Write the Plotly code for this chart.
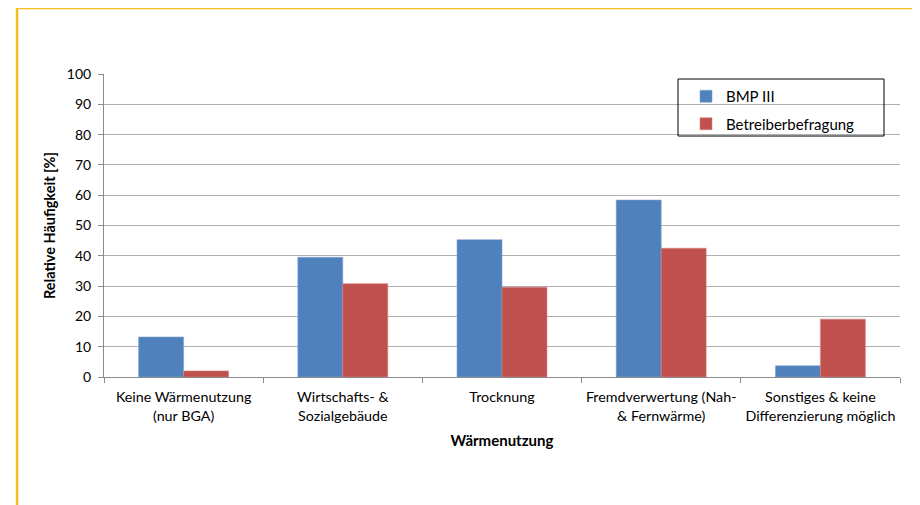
import plotly.graph_objects as go

categories = [
    "Keine Wärmenutzung<br>(nur BGA)",
    "Wirtschafts- &<br>Sozialgebäude",
    "Trocknung",
    "Fremdverwertung (Nah-<br>& Fernwärme)",
    "Sonstiges & keine<br>Differenzierung möglich",
]
bmp_iii = [13.2, 39.5, 45.3, 58.4, 3.7]
betreiber = [2.0, 30.8, 29.6, 42.5, 19.1]
y_ticks = [0, 10, 20, 30, 40, 50, 60, 70, 80, 90, 100]

FONT = "Lato, 'Open Sans', sans-serif"

# page body has an 8px margin: plot area target is x 104..900, y 74..377
L, T, PW, PH = 96, 66, 796, 303

fig = go.Figure()
fig.add_trace(go.Bar(x=categories, y=bmp_iii, name="BMP III",
                     marker=dict(color="#4F81BD", line=dict(color="#7EA1D0", width=0.6)),
                     legendgroup="a"))
fig.add_trace(go.Bar(x=categories, y=betreiber, name="Betreiberbefragung",
                     marker=dict(color="#C0504D", line=dict(color="#D58482", width=0.6)),
                     legendgroup="b"))

fig.update_layout(
    width=912, height=497,
    margin=dict(l=L, r=20, t=T, b=128, autoexpand=False),
    paper_bgcolor="white", plot_bgcolor="white",
    font=dict(family=FONT, size=14, color="#000000"),
    barmode="group", bargap=0.435, bargroupgap=0,
    showlegend=True,
    legend=dict(x=(686 - 104) / PW, y=(377 - 80) / PH, xanchor="left", yanchor="top",
                bgcolor="rgba(0,0,0,0)", borderwidth=0,
                font=dict(family=FONT, size=15, color="#000000"),
                tracegroupgap=5, traceorder="grouped", itemwidth=30),
    xaxis=dict(
        showline=True, linecolor="#8c8c8c", linewidth=1,
        ticks="outside", tickson="boundaries", ticklen=5, tickcolor="#8c8c8c",
        showgrid=False, ticklabelstandoff=7, tickangle=0,
        title=dict(text="<b>Wärmenutzung</b>", font=dict(family=FONT, size=15), standoff=12),
        tickfont=dict(family=FONT, size=14.3),
    ),
    yaxis=dict(
        range=[0, 100], tickvals=y_ticks,
        showline=True, linecolor="#8c8c8c", linewidth=1,
        ticks="outside", ticklen=5, tickcolor="#8c8c8c",
        showgrid=True, gridcolor="#b0b0b0", gridwidth=1,
        zeroline=False, ticklabelstandoff=4,
        title=dict(text="<b>Relative Häufigkeit [%]</b>", font=dict(family=FONT, size=14.5), standoff=7),
        tickfont=dict(family=FONT, size=14),
    ),
    shapes=[
        dict(type="rect", xref="paper", yref="paper",
             x0=(678 - 104) / PW, x1=(884 - 104) / PW,
             y0=(377 - 136) / PH, y1=(377 - 79) / PH,
             line=dict(color="black", width=1), fillcolor="rgba(0,0,0,0)"),
        dict(type="line", xref="paper", yref="paper",
             x0=(17 - 104) / PW, x1=1.05, y0=(377 - 8) / PH, y1=(377 - 8) / PH,
             line=dict(color="#F7BE1B", width=2.5)),
        dict(type="line", xref="paper", yref="paper",
             x0=(17 - 104) / PW, x1=(17 - 104) / PW, y0=(377 - 8) / PH, y1=-0.5,
             line=dict(color="#F7BE1B", width=2.5)),
    ],
)

fig.write_html("out.html")
